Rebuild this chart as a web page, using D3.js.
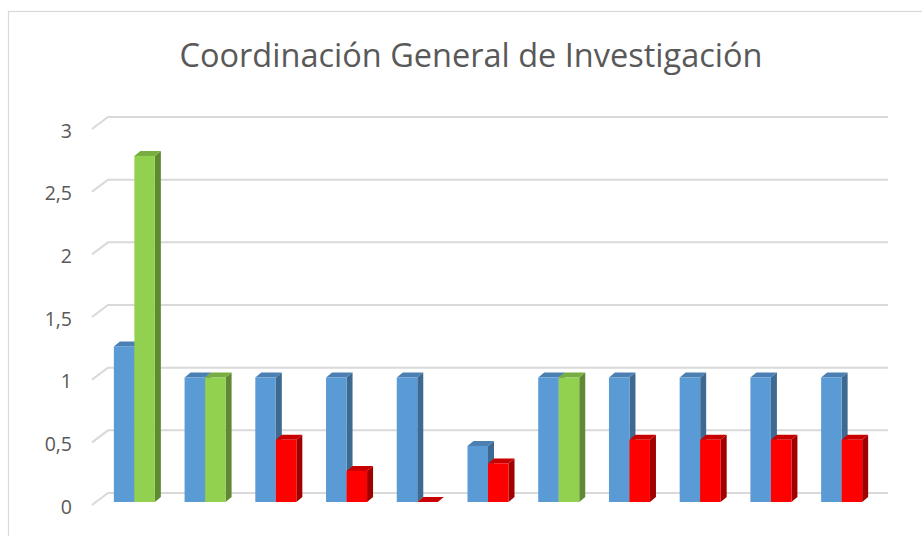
<!DOCTYPE html>
<html>
<head>
<meta charset="utf-8">
<script src="https://cdn.jsdelivr.net/npm/d3@7"></script>
<style>
  html, body { margin: 0; padding: 0; background: #ffffff; }
  svg { display: block; }
</style>
</head>
<body>
<svg id="chart" width="922" height="536"></svg>
<script>
// ---- data ----
const title = "Coordinación General de Investigación";
const categories = ["C1", "C2", "C3", "C4", "C5", "C6", "C7", "C8", "C9", "C10", "C11"];
const serieA = [1.25, 1, 1, 1, 1, 0.45, 1, 1, 1, 1, 1];
const serieB = [2.78, 1, 0.5, 0.25, 0, 0.31, 1, 0.5, 0.5, 0.5, 0.5];
const estadoB = ["ok", "ok", "bajo", "bajo", "bajo", "bajo", "ok", "bajo", "bajo", "bajo", "bajo"];
const yTicks = [0, 0.5, 1, 1.5, 2, 2.5, 3];
const yTickLabels = ["0", "0,5", "1", "1,5", "2", "2,5", "3"];

// ---- styles ----
const palette = {
  A:    { front: "#5b9bd5", side: "#3e6990", top: "#4c80b2" },
  ok:   { front: "#92d050", side: "#5f8a33", top: "#78ae41" },
  bajo: { front: "#ff0000", side: "#a00000", top: "#c80000" }
};

const svg = d3.select("#chart");

// chart frame
svg.append("rect")
  .attr("x", 8.5).attr("y", 11.5)
  .attr("width", 1000).attr("height", 1000)
  .attr("fill", "none").attr("stroke", "#d9d9d9").attr("stroke-width", 1.2);

// title
svg.append("text")
  .attr("x", 471).attr("y", 67)
  .attr("text-anchor", "middle")
  .attr("font-family", "'Open Sans', 'Noto Sans', sans-serif")
  .attr("font-size", 32.5)
  .attr("fill", "#595959")
  .text(title);

// scales
const x = d3.scaleBand().domain(categories).range([99, 877]).paddingInner(0.42).paddingOuter(0.21);
const xs = d3.scaleBand().domain([0, 1]).range([0, x.bandwidth()]);
const yFront = d3.scaleLinear().domain([0, 3]).range([502, 128.5]);
const yBack = d3.scaleLinear().domain([0, 3]).range([493, 117]);

// gridlines (3D floor/wall)
const grid = svg.append("g");
yTicks.forEach((t, i) => {
  const gy = yBack(t);
  grid.append("polyline")
    .attr("points", `92,${gy + 12} 108,${gy} 888,${gy}`)
    .attr("fill", "none")
    .attr("stroke", "#d9d9d9")
    .attr("stroke-width", 2);
  grid.append("text")
    .attr("x", 72).attr("y", gy + 14)
    .attr("dy", "0.35em")
    .attr("text-anchor", "end")
    .attr("font-family", "'Open Sans', 'Noto Sans', sans-serif")
    .attr("font-size", 19.5)
    .attr("fill", "#595959")
    .text(yTickLabels[i]);
});

// 3D bars
const dx = 6, dy = -5;
function bar3d(g, x0, w, v, col) {
  const y0 = yFront(0), y1 = yFront(v);
  // side
  g.append("polygon")
    .attr("points", [[x0 + w, y1], [x0 + w + dx, y1 + dy], [x0 + w + dx, y0 + dy], [x0 + w, y0]].map(p => p.join(",")).join(" "))
    .attr("fill", col.side);
  // top
  g.append("polygon")
    .attr("points", [[x0, y1], [x0 + dx, y1 + dy], [x0 + w + dx, y1 + dy], [x0 + w, y1]].map(p => p.join(",")).join(" "))
    .attr("fill", col.top);
  // front
  g.append("rect")
    .attr("x", x0).attr("y", y1)
    .attr("width", w).attr("height", y0 - y1)
    .attr("fill", col.front);
}

const bars = svg.append("g");
categories.forEach((c, i) => {
  const g = bars.append("g");
  bar3d(g, x(c) + xs(0), xs.bandwidth(), serieA[i], palette.A);
  bar3d(g, x(c) + xs(1), xs.bandwidth(), serieB[i], palette[estadoB[i]]);
});
</script>
</body>
</html>
